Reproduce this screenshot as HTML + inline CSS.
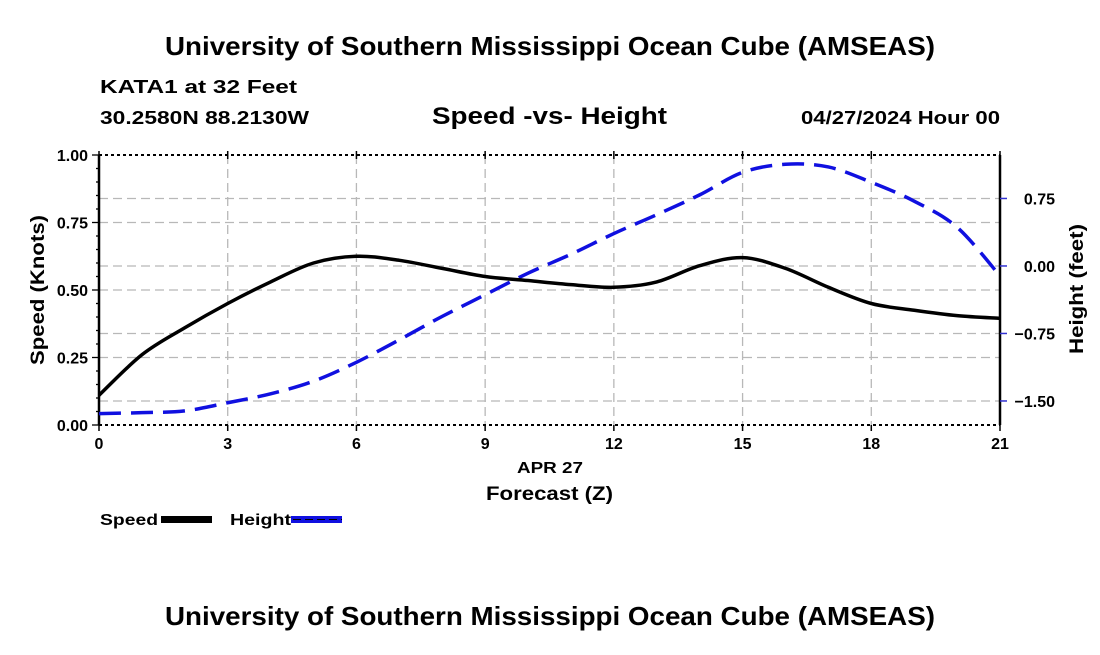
<!DOCTYPE html>
<html><head><meta charset="utf-8"><style>
body{margin:0;background:#fff;width:1100px;height:650px;overflow:hidden}
svg text{font-family:"Liberation Sans",Arial,sans-serif;font-weight:bold;fill:#000}
</style></head><body>
<svg id="chart" width="1100" height="650">
<text x="165" y="55" font-size="26" textLength="770" lengthAdjust="spacingAndGlyphs">University of Southern Mississippi Ocean Cube (AMSEAS)</text>
<text x="100" y="93" font-size="18" textLength="197" lengthAdjust="spacingAndGlyphs">KATA1 at 32 Feet</text>
<text x="100" y="124" font-size="18" textLength="209" lengthAdjust="spacingAndGlyphs">30.2580N  88.2130W</text>
<text x="432" y="124" font-size="24" textLength="235" lengthAdjust="spacingAndGlyphs">Speed -vs- Height</text>
<text x="801" y="124" font-size="18" textLength="199" lengthAdjust="spacingAndGlyphs">04/27/2024 Hour 00</text>
<g id="grid"></g><g id="axes"></g><g id="series"></g>
<text x="517" y="473" font-size="16" textLength="66" lengthAdjust="spacingAndGlyphs">APR 27</text>
<text x="486" y="500" font-size="19" textLength="127" lengthAdjust="spacingAndGlyphs">Forecast (Z)</text>
<text transform="translate(44,365) rotate(-90)" font-size="19" textLength="150" lengthAdjust="spacingAndGlyphs">Speed (Knots)</text>
<text transform="translate(1083,354) rotate(-90)" font-size="19" textLength="130" lengthAdjust="spacingAndGlyphs">Height (feet)</text>
<g>
<text x="100" y="525" font-size="16" textLength="58" lengthAdjust="spacingAndGlyphs">Speed</text>
<rect x="161" y="516" width="51" height="7" fill="#000"/>
<text x="230" y="525" font-size="16" textLength="61" lengthAdjust="spacingAndGlyphs">Height</text>
<rect x="291" y="516" width="51" height="7" fill="#1010e0"/>
<line x1="293" y1="519.5" x2="342" y2="519.5" stroke="#000" stroke-width="1" stroke-dasharray="8,4"/>
</g>
<text x="165" y="625" font-size="26" textLength="770" lengthAdjust="spacingAndGlyphs">University of Southern Mississippi Ocean Cube (AMSEAS)</text>
</svg>
<script>
const hours=[0,1,2,3,4,5,6,7,8,9,10,11,12,13,14,15,16,17,18,19,20,21];
const speed=[0.11,0.26,0.36,0.45,0.53,0.60,0.625,0.61,0.58,0.55,0.535,0.52,0.51,0.53,0.59,0.62,0.58,0.51,0.45,0.425,0.405,0.395];
const height=[-1.64,-1.63,-1.61,-1.52,-1.42,-1.28,-1.07,-0.82,-0.56,-0.32,-0.08,0.13,0.36,0.57,0.79,1.04,1.13,1.10,0.93,0.72,0.43,-0.11];
const xTicks=[0,3,6,9,12,15,18,21];
const speedTicks=[0,0.25,0.5,0.75,1.0];
const heightTicks=[-1.5,-0.75,0,0.75];
const X0=99,X1=1000,Y0=155,Y1=425;
const xs=h=>X0+(h/21)*(X1-X0);
const ys=v=>Y1-v*(Y1-Y0);
const HMIN=-1.767,HMAX=1.233;
const yh=v=>Y1-(v-HMIN)/(HMAX-HMIN)*(Y1-Y0);
const NS="http://www.w3.org/2000/svg";
function mk(p,t,a){const e=document.createElementNS(NS,t);for(const k in a)e.setAttribute(k,a[k]);p.appendChild(e);return e;}
const grid=document.getElementById('grid'),axes=document.getElementById('axes'),ser=document.getElementById('series');
const gs={stroke:'#b8b8b8','stroke-width':1.3,'stroke-dasharray':'9,5'};
xTicks.slice(1,-1).forEach(h=>{const l=mk(grid,'line',Object.assign({x1:xs(h),x2:xs(h),y1:Y0,y2:Y1},gs));

});
speedTicks.slice(1,-1).forEach(v=>{const l=mk(grid,'line',Object.assign({x1:X0,x2:X1,y1:ys(v),y2:ys(v)},gs));

});
heightTicks.forEach(v=>{const l=mk(grid,'line',Object.assign({x1:X0,x2:X1,y1:yh(v),y2:yh(v)},gs));

});
mk(axes,'line',{x1:X0,x2:X0,y1:Y0,y2:Y1,stroke:'#000','stroke-width':2.5});
mk(axes,'line',{x1:X1,x2:X1,y1:Y0,y2:Y1,stroke:'#000','stroke-width':2.5});
mk(axes,'line',{x1:X0,x2:X1,y1:Y0,y2:Y0,stroke:'#000','stroke-width':2,'stroke-dasharray':'3,3'});
mk(axes,'line',{x1:X0,x2:X1,y1:Y1,y2:Y1,stroke:'#000','stroke-width':2,'stroke-dasharray':'3,3'});
xTicks.forEach(h=>{mk(axes,'line',{x1:xs(h),x2:xs(h),y1:Y1,y2:Y1+6,stroke:'#000','stroke-width':1.5});
mk(axes,'line',{x1:xs(h),x2:xs(h),y1:Y0-4,y2:Y0+4,stroke:'#000','stroke-width':1.5});
const t=mk(axes,'text',{x:xs(h),y:Y1+24,'text-anchor':'middle','font-size':16});t.textContent=h;

});
for(let i=0;i<=20;i++){const y=Y1-i*(Y1-Y0)/20;mk(axes,'line',{x1:X0-(i%5==0?7:3),x2:X0,y1:y,y2:y,stroke:'#000','stroke-width':1.3});}
speedTicks.forEach(v=>{const t=mk(axes,'text',{x:X0-11,y:ys(v)+6,'text-anchor':'end','font-size':16});t.textContent=v.toFixed(2);

});
heightTicks.forEach(v=>{mk(axes,'line',{x1:X1,x2:X1+7,y1:yh(v),y2:yh(v),stroke:'#3030d0','stroke-width':1.5});
const t=mk(axes,'text',{x:1055,y:yh(v)+6,'text-anchor':'end','font-size':16});t.textContent=v===0?'0.00':(v<0?'\u2212':'')+Math.abs(v).toFixed(2);

});
function smooth(pts){let d='M'+pts[0][0]+','+pts[0][1];for(let i=0;i<pts.length-1;i++){const p0=pts[i-1]||pts[i],p1=pts[i],p2=pts[i+1],p3=pts[i+2]||p2;
d+=' C'+(p1[0]+(p2[0]-p0[0])/6)+','+(p1[1]+(p2[1]-p0[1])/6)+' '+(p2[0]-(p3[0]-p1[0])/6)+','+(p2[1]-(p3[1]-p1[1])/6)+' '+p2[0]+','+p2[1];}return d;}
const hp=mk(ser,'path',{d:smooth(hours.map((h,i)=>[xs(h),yh(height[i])])),fill:'none',stroke:'#1010e0','stroke-width':3.5,'stroke-dasharray':'22,10'});


const sp=mk(ser,'path',{d:smooth(hours.map((h,i)=>[xs(h),ys(speed[i])])),fill:'none',stroke:'#000','stroke-width':3.5});


</script>
</body></html>
